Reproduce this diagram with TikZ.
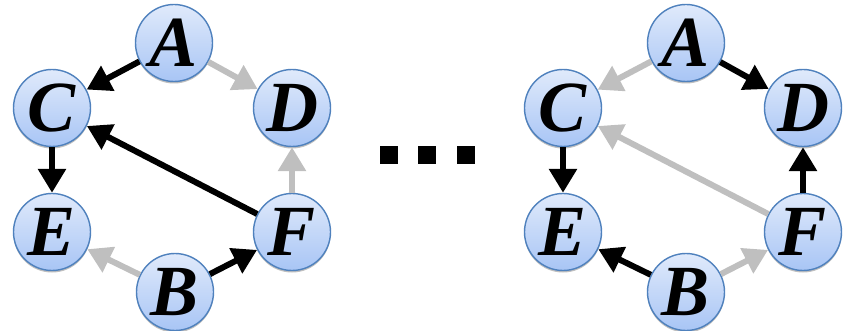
\documentclass[tikz,border=0pt]{standalone}
\usepackage{fontspec}
\setmainfont{Liberation Serif}
\usetikzlibrary{arrows.meta,shadows}
\definecolor{nodeborder}{HTML}{4F81BD}
\definecolor{nodetop}{HTML}{E0EAFB}
\definecolor{nodebot}{HTML}{A8C5F5}
\definecolor{lightarrow}{HTML}{BFBFBF}
\tikzset{
  vnode/.style={circle,minimum size=77pt,inner sep=0pt,draw=nodeborder,line width=1.4pt,
    top color=nodetop,bottom color=nodebot,
    drop shadow={shadow xshift=0pt,shadow yshift=-2pt,opacity=0.25,fill=black},
    font=\fontsize{72}{72}\selectfont\bfseries\itshape},
  darkedge/.style={line width=6pt,black,-{Triangle[length=24pt,width=27pt]}},
  lightedge/.style={line width=6pt,lightarrow,-{Triangle[length=24pt,width=27pt]}},
  dotsq/.style={fill=black,minimum size=18pt,inner sep=0pt}
}
\begin{document}
\begin{tikzpicture}[x=1pt,y=-1pt]
\useasboundingbox (0,0) rectangle (843,331);
% left graph
\node[vnode] (lA) at (174,43) {A};
\node[vnode] (lC) at (52,108) {C};
\node[vnode] (lD) at (292,108) {D};
\node[vnode] (lE) at (52,232) {E};
\node[vnode] (lF) at (292,232) {F};
\node[vnode] (lB) at (175,292) {B};
\draw[lightedge] (lA) -- (lD);
\draw[lightedge] (lF) -- (lD);
\draw[lightedge] (lB) -- (lE);
\draw[darkedge] (lA) -- (lC);
\draw[darkedge] (lC) -- (lE);
\draw[darkedge] (lF) -- (lC);
\draw[darkedge] (lB) -- (lF);
% dots
\node[dotsq] (d1) at (389,155) {};
\node[dotsq] (d2) at (427,155) {};
\node[dotsq] (d3) at (466,155) {};
% right graph
\node[vnode] (rA) at (686,43) {A};
\node[vnode] (rC) at (563,108) {C};
\node[vnode] (rD) at (803,108) {D};
\node[vnode] (rE) at (563,232) {E};
\node[vnode] (rF) at (803,232) {F};
\node[vnode] (rB) at (686,292) {B};
\draw[lightedge] (rA) -- (rC);
\draw[lightedge] (rF) -- (rC);
\draw[lightedge] (rB) -- (rF);
\draw[darkedge] (rA) -- (rD);
\draw[darkedge] (rC) -- (rE);
\draw[darkedge] (rF) -- (rD);
\draw[darkedge] (rB) -- (rE);
\end{tikzpicture}
\end{document}
